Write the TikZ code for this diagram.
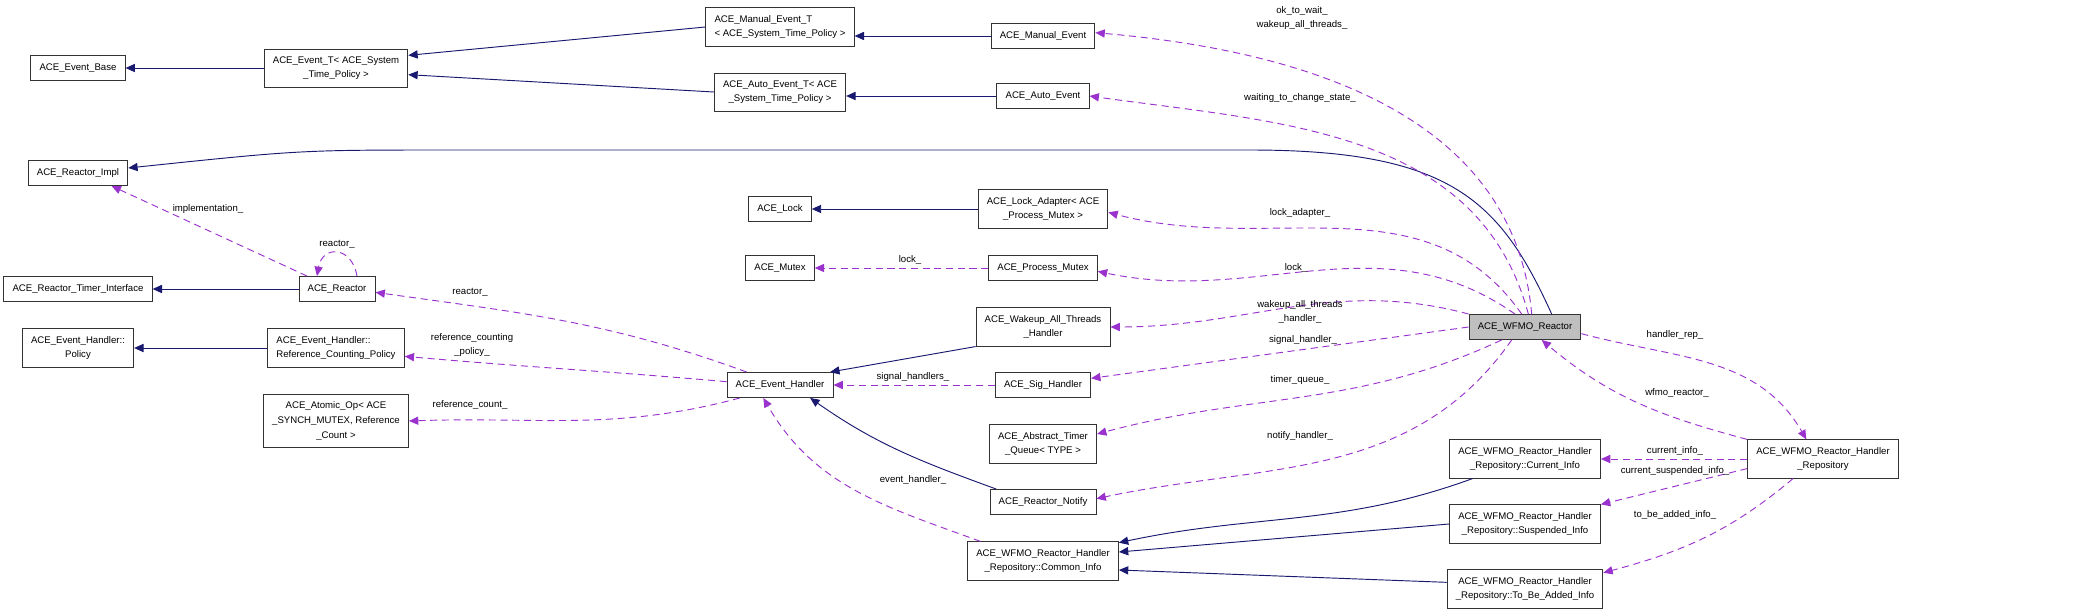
\documentclass[tikz,border=0pt]{standalone}
\usepackage{fontspec}
\setmainfont{Liberation Sans}
\usetikzlibrary{arrows.meta}
\definecolor{inhblue}{HTML}{191970}
\definecolor{usepurple}{HTML}{9A32CD}
\tikzset{
  cls/.style={draw=black!80, thick, rectangle, align=center, inner xsep=2.6mm, inner ysep=2.2mm, minimum height=7.5mm, font=\fontsize{8.2}{12.5}\selectfont},
  lbl/.style={align=center, inner sep=0pt, font=\fontsize{8.2}{12.5}\selectfont},
  inh/.style={draw=inhblue, thick, -{Triangle[length=8pt,width=7pt]}},
  use/.style={draw=usepurple, thick, dash pattern=on 6pt off 4pt, -{Triangle[length=8pt,width=7pt]}},
}
\begin{document}
\begin{tikzpicture}[x=0.3mm, y=0.3mm]
\useasboundingbox (0,0) rectangle (2085,-615);

%% left column
\node[cls] (evbase) at (78,-68) {ACE\_Event\_Base};
\node[cls] (impl) at (78,-173) {ACE\_Reactor\_Impl};
\node[cls] (timerif) at (78,-289) {ACE\_Reactor\_Timer\_Interface};
\node[cls] (policy) at (78,-348) {ACE\_Event\_Handler::\\Policy};

%% second column
\node[cls] (evt) at (336,-68) {ACE\_Event\_T< ACE\_System\\\_Time\_Policy >};
\node[cls] (reactor) at (337,-289) {ACE\_Reactor};
\node[cls, align=left] (rcp) at (336,-348) {ACE\_Event\_Handler::\\Reference\_Counting\_Policy};
\node[cls] (atomic) at (336,-421) {ACE\_Atomic\_Op< ACE\\\_SYNCH\_MUTEX, Reference\\\_Count >};

%% third column
\node[cls, align=left] (manT) at (780,-27) {ACE\_Manual\_Event\_T\\< ACE\_System\_Time\_Policy >};
\node[cls] (autoT) at (780,-92) {ACE\_Auto\_Event\_T< ACE\\\_System\_Time\_Policy >};
\node[cls] (lock) at (780,-209) {ACE\_Lock};
\node[cls] (mutex) at (780,-268) {ACE\_Mutex};
\node[cls] (evh) at (780,-385) {ACE\_Event\_Handler};

%% fourth column
\node[cls] (manE) at (1043,-36) {ACE\_Manual\_Event};
\node[cls] (autoE) at (1043,-96) {ACE\_Auto\_Event};
\node[cls] (lockad) at (1043,-209) {ACE\_Lock\_Adapter< ACE\\\_Process\_Mutex >};
\node[cls] (pmutex) at (1043,-268) {ACE\_Process\_Mutex};
\node[cls] (wakeup) at (1043,-327) {ACE\_Wakeup\_All\_Threads\\\_Handler};
\node[cls] (sig) at (1043,-385) {ACE\_Sig\_Handler};
\node[cls] (tq) at (1043,-444) {ACE\_Abstract\_Timer\\\_Queue< TYPE >};
\node[cls] (notify) at (1043,-502) {ACE\_Reactor\_Notify};
\node[cls] (common) at (1043,-561) {ACE\_WFMO\_Reactor\_Handler\\\_Repository::Common\_Info};

%% fifth column
\node[cls, fill=black!25] (wfmo) at (1525,-327) {ACE\_WFMO\_Reactor};
\node[cls] (cur) at (1525,-459) {ACE\_WFMO\_Reactor\_Handler\\\_Repository::Current\_Info};
\node[cls] (sus) at (1525,-524) {ACE\_WFMO\_Reactor\_Handler\\\_Repository::Suspended\_Info};
\node[cls] (tba) at (1525,-589) {ACE\_WFMO\_Reactor\_Handler\\\_Repository::To\_Be\_Added\_Info};
\node[cls] (hrep) at (1823,-459) {ACE\_WFMO\_Reactor\_Handler\\\_Repository};

%% inheritance
\draw[inh] (evt) -- (evbase);
\draw[inh] (manT.west) -- ([yshift=3.8mm]evt.east);
\draw[inh] (autoT.west) -- ([yshift=-2mm]evt.east);
\draw[inh] (manE) -- (manT.east |- manE);
\draw[inh] (autoE) -- (autoT.east |- autoE);
\draw[inh] ([xshift=8mm]wfmo.north) .. controls (1500,-200) and (1450,-150) .. (1250,-150) -- (450,-150) .. controls (300,-150) .. ([yshift=1.5mm]impl.east);
\draw[inh] (reactor) -- (timerif);
\draw[inh] (rcp) -- (policy);
\draw[inh] (lockad) -- (lock);
\draw[inh] (wakeup.south west) -- ([xshift=-1mm]evh.north east);
\draw[inh] ([xshift=2mm]notify.north west) to[out=160,in=-35] ([xshift=-7mm]evh.south east);
\draw[inh] ([xshift=7mm]cur.south west) to[out=200,in=12] ([yshift=5.5mm]common.east);
\draw[inh] (sus.west) -- ([yshift=2.7mm]common.east);
\draw[inh] ([yshift=2mm]tba.west) -- ([yshift=-2.7mm]common.east);

%% members
\draw[use] ([xshift=2mm]wfmo.north) to[out=95,in=-5] ([yshift=1mm]manE.east);
\draw[use] ([xshift=1mm]wfmo.north) to[out=105,in=-8] (autoE.east);
\draw[use] ([xshift=-1mm]wfmo.north) to[out=125,in=-15] ([yshift=-1mm]lockad.east);
\draw[use] ([xshift=-3mm]wfmo.north) to[out=145,in=-12] ([yshift=-1mm]pmutex.east);
\draw[use] (wfmo.north west) to[out=165,in=0] (wakeup.east);
\draw[use] (wfmo.west) -- ([yshift=2mm]sig.east);
\draw[use] ([xshift=-7mm]wfmo.south) to[out=205,in=15] ([yshift=3mm]tq.east);
\draw[use] ([xshift=-4mm]wfmo.south) to[out=235,in=12] ([yshift=1mm]notify.east);
\draw[use] ([yshift=-2mm]wfmo.east) to[out=-15,in=120] ([xshift=-5mm]hrep.north);
\draw[use] (hrep.north west) to[out=165,in=-40] ([xshift=5mm]wfmo.south);
\draw[use] (hrep.west) -- (cur.east);
\draw[use] ([yshift=3mm]hrep.south west) -- (sus.north east);
\draw[use] ([xshift=-9mm]hrep.south) to[out=-140,in=15] ([yshift=-1mm]tba.north east);
\draw[use] ([xshift=-9mm]reactor.north) -- ([xshift=-5mm]impl.south east);
\draw[use] ([xshift=6mm]reactor.north) to[out=100,in=80,looseness=2] ([xshift=-6mm]reactor.north);
\draw[use] ([xshift=-10mm]evh.north) to[out=160,in=-8] ([yshift=-1mm]reactor.east);
\draw[use] ([yshift=1mm]evh.west) to[out=175,in=-5] ([yshift=-2.5mm]rcp.east);
\draw[use] ([xshift=4mm]evh.south west) to[out=195,in=2] (atomic.east);
\draw[use] (pmutex) -- (mutex);
\draw[use] (sig) -- (evh);
\draw[use] ([xshift=4mm]common.north west) to[out=160,in=-60] ([xshift=-5mm]evh.south);

%% member labels
\node[lbl] (l1) at (1302,-18) {ok\_to\_wait\_\\wakeup\_all\_threads\_};
\node[lbl] (l2) at (1300,-98) {waiting\_to\_change\_state\_};
\node[lbl] (l3) at (1300,-213) {lock\_adapter\_};
\node[lbl] (l4) at (1296,-268) {lock\_};
\node[lbl] (l5) at (1300,-312) {wakeup\_all\_threads\\\_handler\_};
\node[lbl] (l6) at (1303,-340) {signal\_handler\_};
\node[lbl] (l7) at (1300,-380) {timer\_queue\_};
\node[lbl] (l8) at (1300,-436) {notify\_handler\_};
\node[lbl] (l9) at (1675,-335) {handler\_rep\_};
\node[lbl] (l10) at (1677,-393) {wfmo\_reactor\_};
\node[lbl] (l11) at (1675,-451) {current\_info\_};
\node[lbl] (l12) at (1675,-471) {current\_suspended\_info\_};
\node[lbl] (l13) at (1675,-515) {to\_be\_added\_info\_};
\node[lbl] (l14) at (208,-209) {implementation\_};
\node[lbl] (l15) at (337,-244) {reactor\_};
\node[lbl] (l16) at (470,-292) {reactor\_};
\node[lbl] (l17) at (472,-345) {reference\_counting\\\_policy\_};
\node[lbl] (l18) at (470,-405) {reference\_count\_};
\node[lbl] (l19) at (910,-260) {lock\_};
\node[lbl] (l20) at (913,-377) {signal\_handlers\_};
\node[lbl] (l21) at (913,-480) {event\_handler\_};
\end{tikzpicture}
\end{document}
